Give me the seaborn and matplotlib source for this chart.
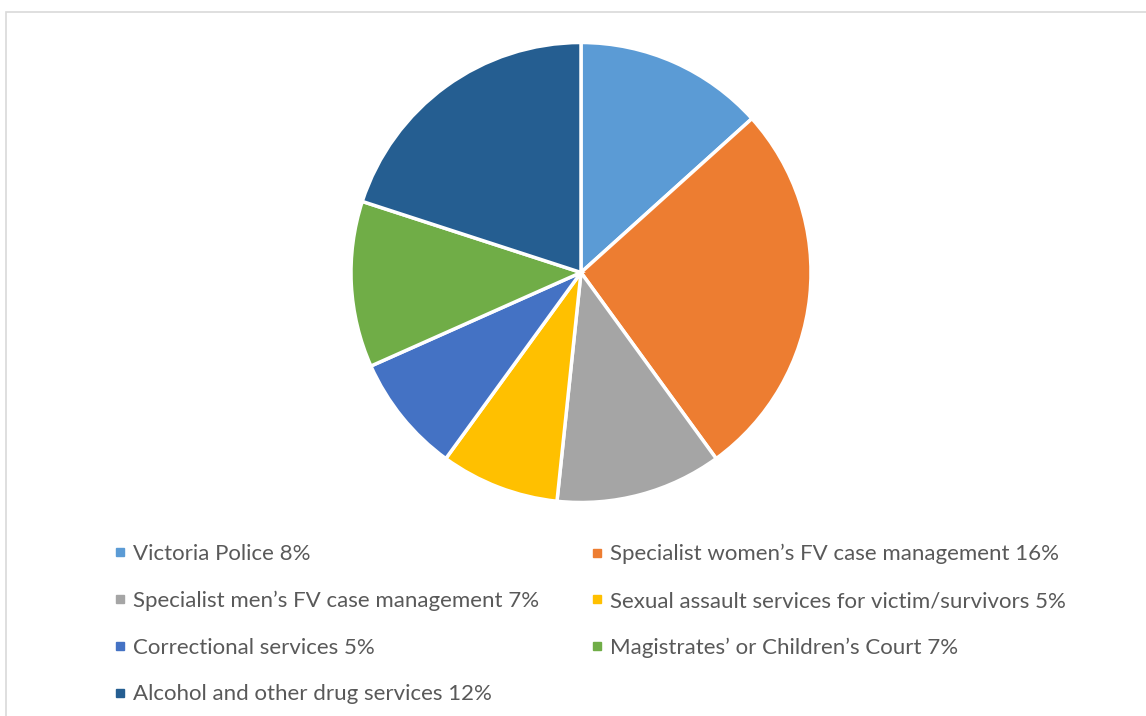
import matplotlib
matplotlib.use("Agg")
import matplotlib.pyplot as plt
from matplotlib.lines import Line2D
from matplotlib.patches import Rectangle
import seaborn as sns

labels = ["Victoria Police 8%",
          "Specialist women\u2019s FV case management 16%",
          "Specialist men\u2019s FV case management 7%",
          "Sexual assault services for victim/survivors 5%",
          "Correctional services 5%",
          "Magistrates\u2019 or Children\u2019s Court 7%",
          "Alcohol and other drug services 12%"]
values = [8, 16, 7, 5, 5, 7, 12]
colors = ["#5B9BD5", "#ED7D31", "#A5A5A5", "#FFC000", "#4472C4", "#70AD47", "#255E91"]

sns.set_theme(style="white")
plt.rcParams['font.family'] = ['Lato', 'DejaVu Sans']
palette = sns.color_palette(colors)

W, H = 1146, 716
fig = plt.figure(figsize=(W / 100, H / 100), dpi=100)
fig.patch.set_facecolor("white")

# frame
fig.add_artist(Rectangle((6 / W, -0.1), 1.2, (H - 12) / H + 0.1, transform=fig.transFigure,
                         fill=False, edgecolor="#D9D9D9", linewidth=1.2))

cx, cy, r = 581, 272.5, 230
ax = fig.add_axes([(cx - r) / W, (H - cy - r) / H, 2 * r / W, 2 * r / H])
ax.pie(values, colors=palette, startangle=90, counterclock=False, radius=1,
       wedgeprops=dict(edgecolor="white", linewidth=2.5))
ax.set_xlim(-1.0, 1.0)
ax.set_ylim(-1.0, 1.0)
ax.set_aspect("equal")
ax.axis("off")

handles = [Line2D([], [], marker="s", linestyle="none", markersize=6,
                  markerfacecolor=c, markeredgecolor=c) for c in palette]

def make_leg(idx, x, y):
    leg = fig.legend([handles[i] for i in idx], [labels[i] for i in idx],
                     loc="upper left", bbox_to_anchor=(x / W, 1 - y / H),
                     frameon=False, fontsize=16, labelcolor="#595959",
                     handlelength=0.6, handletextpad=0.3, labelspacing=1.2,
                     borderpad=0, borderaxespad=0)
    return leg

make_leg([0, 2, 4, 6], 113, 544)
make_leg([1, 3, 5], 590, 544)

fig.savefig("out.png", dpi=100, facecolor="white")
